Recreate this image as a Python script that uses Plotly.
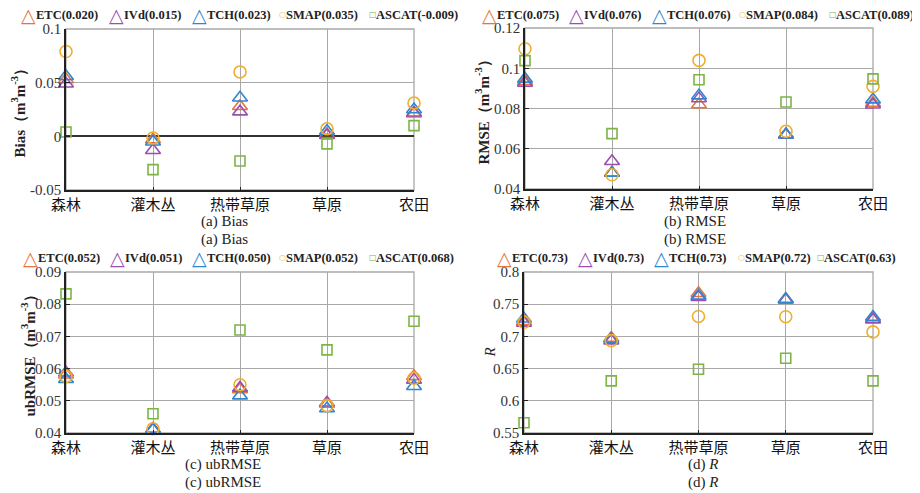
import plotly.graph_objects as go

# page body has an 8px margin: the figure occupies window pixels 8..920 / 8..493
OFF = 8
FW, FH = 920 - OFF, 493 - OFF


def fx(px):
    return (px - OFF) / FW


def fy(py):
    return 1 - (py - OFF) / FH


categories = ["森林", "灌木丛", "热带草原", "草原", "农田"]
products = ["ETC", "IVd", "TCH", "SMAP", "ASCAT"]

# Panel (a) Bias
bias_ETC = [0.053, -0.003, 0.028, 0.002, 0.021]
bias_IVd = [0.049, -0.013, 0.023, 0.001, 0.022]
bias_TCH = [0.056, -0.005, 0.036, 0.005, 0.025]
bias_SMAP = [0.079, -0.0015, 0.060, 0.007, 0.031]
bias_ASCAT = [0.004, -0.031, -0.023, -0.007, 0.010]
bias_overall = ["0.020", "0.015", "0.023", "0.035", "-0.009"]

# Panel (b) RMSE
rmse_ETC = [0.0935, 0.048, 0.082, 0.067, 0.0827]
rmse_IVd = [0.0927, 0.0538, 0.085, 0.067, 0.0819]
rmse_TCH = [0.0947, 0.048, 0.0864, 0.067, 0.0844]
rmse_SMAP = [0.1097, 0.0471, 0.1039, 0.0687, 0.091]
rmse_ASCAT = [0.1038, 0.0675, 0.0943, 0.0832, 0.0947]
rmse_overall = ["0.075", "0.076", "0.076", "0.084", "0.089"]

# Panel (c) ubRMSE
ub_ETC = [0.0581, 0.0412, 0.0535, 0.049, 0.0576]
ub_IVd = [0.0587, 0.0412, 0.054, 0.0494, 0.0565]
ub_TCH = [0.0567, 0.041, 0.0516, 0.0476, 0.0545]
ub_SMAP = [0.0576, 0.0413, 0.055, 0.0485, 0.057]
ub_ASCAT = [0.0832, 0.046, 0.072, 0.0658, 0.0747]
ub_overall = ["0.052", "0.051", "0.050", "0.052", "0.068"]

# Panel (d) R
r_ETC = [0.7234, 0.6975, 0.767, 0.757, 0.727]
r_IVd = [0.721, 0.6934, 0.761, 0.757, 0.726]
r_TCH = [0.7275, 0.696, 0.763, 0.758, 0.730]
r_SMAP = [0.722, 0.6934, 0.731, 0.7306, 0.707]
r_ASCAT = [0.566, 0.631, 0.649, 0.666, 0.631]
r_overall = ["0.73", "0.73", "0.73", "0.72", "0.63"]

colors = {"ETC": "#E8733F", "IVd": "#9A4FB0", "TCH": "#2F87CF",
          "SMAP": "#EFAE2E", "ASCAT": "#7DB446"}
symbols = {"ETC": "triangle-up-open", "IVd": "triangle-up-open", "TCH": "triangle-up-open",
           "SMAP": "circle-open", "ASCAT": "square-open"}
sizes = {"ETC": 13, "IVd": 13, "TCH": 13, "SMAP": 12, "ASCAT": 10}
leg_sym = {"ETC": "△", "IVd": "△", "TCH": "△", "SMAP": "○", "ASCAT": "□"}
leg_sym_size = {"ETC": 19, "IVd": 19, "TCH": 19, "SMAP": 8, "ASCAT": 8}

panels = [
    dict(data=[bias_ETC, bias_IVd, bias_TCH, bias_SMAP, bias_ASCAT], overall=bias_overall,
         xpx=(66, 414), ypx=(29, 190), yr=(-0.05, 0.1),
         tv=[-0.05, 0, 0.05, 0.1], tt=["-0.05", "0", "0.05", "0.1"],
         ytitle="<b>Bias（m<sup>3</sup>m<sup>-3</sup>）</b>", ytx=18,
         cap="(a) Bias", capx=224, capy=(221, 239),
         legx=[20, 108, 191, 278, 368], legy=15, zero=True),
    dict(data=[rmse_ETC, rmse_IVd, rmse_TCH, rmse_SMAP, rmse_ASCAT], overall=rmse_overall,
         xpx=(525, 873), ypx=(28, 189), yr=(0.04, 0.12),
         tv=[0.04, 0.06, 0.08, 0.1, 0.12], tt=["0.04", "0.06", "0.08", "0.1", "0.12"],
         ytitle="<b>RMSE（m<sup>3</sup>m<sup>-3</sup>）</b>", ytx=482,
         cap="(b) RMSE", capx=695, capy=(221, 239),
         legx=[481, 568, 651, 738, 828], legy=15, zero=False),
    dict(data=[ub_ETC, ub_IVd, ub_TCH, ub_SMAP, ub_ASCAT], overall=ub_overall,
         xpx=(66, 414), ypx=(272, 433), yr=(0.04, 0.09),
         tv=[0.04, 0.05, 0.06, 0.07, 0.08, 0.09],
         tt=["0.04", "0.05", "0.06", "0.07", "0.08", "0.09"],
         ytitle="<b>ubRMSE（m<sup>3</sup>m<sup>-3</sup>）</b>", ytx=28,
         cap="(c) ubRMSE", capx=223, capy=(464, 482),
         legx=[22, 109, 191, 278, 368], legy=258, zero=False),
    dict(data=[r_ETC, r_IVd, r_TCH, r_SMAP, r_ASCAT], overall=r_overall,
         xpx=(524, 873), ypx=(272, 433), yr=(0.55, 0.8),
         tv=[0.55, 0.6, 0.65, 0.7, 0.75, 0.8],
         tt=["0.55", "0.6", "0.65", "0.7", "0.75", "0.8"],
         ytitle="<i>R</i>", ytx=489,
         cap="(d) <i>R</i>", capx=703, capy=(464, 482),
         legx=[496, 577, 653, 737, 816], legy=258, zero=False),
]

SERIF = "Liberation Serif, Times New Roman, serif"
CJK = "Noto Sans CJK SC, sans-serif"

fig = go.Figure()
annotations = []
layout = {}

for i, p in enumerate(panels):
    n = i + 1
    xa = "x" if n == 1 else f"x{n}"
    ya = "y" if n == 1 else f"y{n}"
    xkey = "xaxis" if n == 1 else f"xaxis{n}"
    ykey = "yaxis" if n == 1 else f"yaxis{n}"
    for name, vals in zip(products, p["data"]):
        fig.add_trace(go.Scatter(
            x=categories, y=vals, mode="markers", xaxis=xa, yaxis=ya,
            showlegend=False, cliponaxis=False,
            marker=dict(symbol=symbols[name], size=sizes[name],
                        color=colors[name], line=dict(width=1.6, color=colors[name])),
        ))
    x0, x1 = p["xpx"]
    y0, y1 = p["ypx"]
    layout[xkey] = dict(
        domain=[fx(x0), fx(x1)], anchor=ya, type="category", automargin=False,
        range=[0, 4], showgrid=True, gridcolor="#A8A8A8", gridwidth=1.3,
        showline=True, linecolor="#222", linewidth=1.5, mirror=False,
        ticks="inside", ticklen=3, tickcolor="#222",
        tickfont=dict(family=CJK, size=15, color="#111"),
        tickangle=0, fixedrange=True,
    )
    layout[ykey] = dict(
        domain=[fy(y1), fy(y0)], anchor=xa, automargin=False,
        range=list(p["yr"]), tickvals=p["tv"], ticktext=p["tt"],
        showgrid=True, gridcolor="#A8A8A8", gridwidth=1.3,
        showline=True, linecolor="#222", linewidth=1.5,
        ticks="inside", ticklen=4, tickcolor="#222",
        tickfont=dict(family=SERIF, size=15, color="#333"),
        zeroline=p["zero"], zerolinecolor="#333", zerolinewidth=1.6,
        fixedrange=True,
    )
    # top and right border (gray like the grid)
    fig.add_shape(type="rect", xref=f"{xa} domain", yref=f"{ya} domain",
                  x0=0, x1=1, y0=0, y1=1, line=dict(color="#A8A8A8", width=1.3),
                  layer="below")
    # y title
    annotations.append(dict(
        x=fx(p["ytx"]), y=fy((y0 + y1) / 2), xref="paper", yref="paper",
        text=p["ytitle"], textangle=-90, showarrow=False,
        xanchor="center", yanchor="middle",
        font=dict(family=SERIF, size=15, color="#222")))
    # captions (duplicated as in the source)
    for cy in p["capy"]:
        annotations.append(dict(
            x=fx(p["capx"]), y=fy(cy), xref="paper", yref="paper",
            text=p["cap"], showarrow=False, xanchor="center", yanchor="middle",
            font=dict(family=SERIF, size=15, color="#222")))
    # legend row
    for name, ov, lx in zip(products, p["overall"], p["legx"]):
        annotations.append(dict(
            x=fx(lx), y=fy(p["legy"]), xref="paper", yref="paper",
            text=leg_sym[name], showarrow=False, xanchor="left", yanchor="middle",
            borderpad=0,
            font=dict(family="DejaVu Sans", size=leg_sym_size[name], color=colors[name])))
        off = 15 if name in ("ETC", "IVd", "TCH") else 7
        annotations.append(dict(
            x=fx(lx + off), y=fy(p["legy"]), xref="paper", yref="paper",
            text=f"<b>{name}({ov})</b>", showarrow=False, xanchor="left", yanchor="middle",
            borderpad=0,
            font=dict(family=SERIF, size=12.5, color="#222")))

fig.update_layout(
    width=FW, height=FH, margin=dict(l=0, r=0, t=0, b=0, autoexpand=False),
    paper_bgcolor="white", plot_bgcolor="white",
    showlegend=False, annotations=annotations, **layout,
)

fig.write_html("out.html")
